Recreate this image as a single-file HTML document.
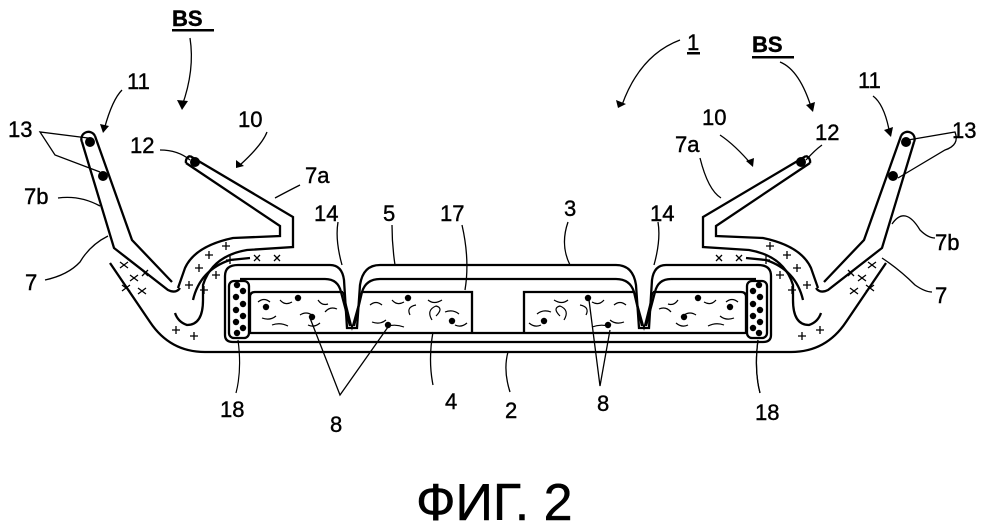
<!DOCTYPE html>
<html><head><meta charset="utf-8"><style>
html,body{margin:0;padding:0;background:#fff;}
svg{display:block;}
text{font-family:"Liberation Sans",sans-serif;font-size:22px;fill:#000;stroke:#000;stroke-width:0.4;}
</style></head><body>
<svg width="998" height="530" viewBox="0 0 998 530" xmlns="http://www.w3.org/2000/svg">
<defs>
<g id="half" fill="none" stroke="#000" stroke-width="2.3">
  <path d="M82 142 L114 248 L168 290 Q176 294 180 288"/>
  <path d="M95 136 L132 240 L172 282"/>
  <path d="M82 142 A7 7 0 0 1 95 136"/>
  <path d="M190 156 L293 217 L293 247 L247 250 Q212 256 203 285 L203 300 Q203 325 187 325 Q178 322 175 313"/>
  <path d="M186 163 L280 226 L280 236 L233 238 Q195 246 185 268 L178 288"/>
  <path d="M186 163 A6 6 0 0 1 190 156"/>
  <path d="M193 300 Q200 270 230 260 L250 258"/>
  <path d="M110 263 L150 322 Q170 352 205 352 L498 352"/>
  <path d="M233 342 L498 342"/>
  <path d="M225 335 L225 276 Q225 265 238 265 L330 265 Q342 265 344 280 L347 328 L357 328 L360 285 Q363 265 380 265 L498 265"/>
  <path d="M233 342 Q225 342 225 335"/>
  <path d="M240 279 L325 279 Q338 279 341 292 L350 326"/>
  <path d="M354 326 L362 292 Q366 279 380 279 L498 279"/>
  <rect x="229" y="281" width="20" height="57" rx="5"/>
  <path d="M343 292 L255 292 Q250 292 250 297 L250 333 L498 333"/>
  <path d="M362 292 L472 292 L472 333"/>
  <path d="M343 292 L352 328 L362 292" stroke-width="1.5"/>
  <path d="M238 340 Q242 370 236 393" stroke-width="1.2"/>
  <g stroke-width="1.2">
    <path d="M258 302 q6 -5 12 0 M262 318 q8 3 14 -2 M280 300 q5 6 12 2 M300 315 q6 -4 12 0 M318 300 q4 6 10 4 M272 325 q8 -3 16 1 M308 325 q6 3 12 -2 M325 312 q5 -6 12 -3"/>
    <path d="M370 305 q6 -5 12 0 M372 322 q8 3 14 -2 M392 300 q5 6 12 2 M410 315 q-4 -8 6 -10 M428 300 q6 5 14 0 M445 312 q8 -3 14 2 M388 326 q8 -2 16 1 M455 325 q6 3 12 -2 M432 320 q-6 -10 4 -14 q8 2 0 10"/>
  </g>
  <g fill="#000" stroke="none">
    <circle cx="90" cy="142" r="5"/><circle cx="103" cy="176" r="5"/><circle cx="195" cy="162" r="5"/>
    <circle cx="237" cy="285" r="3.2"/><circle cx="243" cy="291" r="3.2"/><circle cx="236" cy="297" r="3.2"/><circle cx="243" cy="304" r="3.2"/><circle cx="236" cy="310" r="3.2"/><circle cx="243" cy="316" r="3.2"/><circle cx="236" cy="322" r="3.2"/><circle cx="243" cy="328" r="3.2"/><circle cx="237" cy="333" r="3.2"/>
    <circle cx="266" cy="307" r="3.2"/><circle cx="298" cy="298" r="3.2"/><circle cx="312" cy="317" r="3.2"/>
    <circle cx="408" cy="298" r="3.2"/><circle cx="388" cy="325" r="3.2"/><circle cx="452" cy="321" r="3.2"/>
  </g>
  <g stroke-width="1.3">
    <path d="M120 262 l8 6 m0 -6 l-8 6 M130 275 l8 6 m0 -6 l-8 6 M122 285 l8 6 m0 -6 l-8 6 M138 288 l8 6 m0 -6 l-8 6 M142 270 l6 6 m0 -6 l-6 6"/>
    <path d="M185 285 h8 m-4 -4 v8 M195 268 h8 m-4 -4 v8 M205 255 h8 m-4 -4 v8 M222 246 h8 m-4 -4 v8 M200 290 h8 m-4 -4 v8 M212 275 h8 m-4 -4 v8 M226 260 h8 m-4 -4 v8 M172 330 h8 m-4 -4 v8 M190 336 h8 m-4 -4 v8"/>
    <path d="M254 255 l6 6 m0 -6 l-6 6 M274 255 l6 6 m0 -6 l-6 6"/>
  </g>
</g>
</defs>
<use href="#half"/>
<use href="#half" transform="translate(996,0) scale(-1,1)"/>
<g fill="none" stroke="#000" stroke-width="1.3">
  <path d="M88 138 L40 132 L55 155 L100 172"/>
  <path d="M190 160 Q178 150 160 150"/>
  <path d="M275 198 Q290 190 300 185"/>
  <path d="M100 206 Q80 195 58 198"/>
  <path d="M108 236 Q90 245 80 262 Q68 275 45 280"/>
  <path d="M342 265 Q335 240 338 222"/>
  <path d="M908 140 L955 132 Q960 145 945 150 L898 178"/>
  <path d="M806 160 Q815 150 822 145"/>
  <path d="M721 198 Q708 190 700 158"/>
  <path d="M892 224 Q905 205 920 230 Q928 238 935 238"/>
  <path d="M882 258 Q900 270 915 285 Q925 292 932 292"/>
  <path d="M654 265 Q661 240 658 222"/>
  <path d="M758 340 Q754 370 760 393"/>
  <path d="M310 318 L340 395 L388 327"/>
  <path d="M433 332 Q428 360 433 385"/>
  <path d="M508 352 Q503 370 510 392"/>
  <path d="M589 300 L600 386 L610 330"/>
  <path d="M395 265 Q392 245 392 225"/>
  <path d="M465 290 Q470 260 462 225"/>
  <path d="M570 265 Q560 245 568 222"/>
  <path d="M190 38 Q195 70 182 106"/>
  <path d="M122 90 Q112 100 104 130"/>
  <path d="M267 132 Q262 145 240 165"/>
  <path d="M680 40 Q640 55 622 105"/>
  <path d="M780 62 Q800 70 812 110"/>
  <path d="M873 96 Q885 105 890 135"/>
  <path d="M720 135 Q735 145 752 165"/>
</g>
<g fill="#000">
  <path d="M177 100 L182 110 L188 101 Z"/>
  <path d="M100 124 L103 133 L109 126 Z"/>
  <path d="M236 160 L236 168 L244 166 Z"/>
  <path d="M616 100 L618 108 L626 104 Z"/>
  <path d="M806 105 L813 112 L815 102 Z"/>
  <path d="M884 130 L891 137 L893 127 Z"/>
  <path d="M746 161 L753 167 L754 158 Z"/>
</g>
<text x="172" y="26" style="font-weight:bold">BS</text><rect x="172" y="29" width="42" height="2.5"/>
<text x="752" y="52" style="font-weight:bold">BS</text><rect x="752" y="56" width="42" height="2.5"/>
<text x="687" y="50">1</text><rect x="687" y="52" width="13" height="2.5"/>
<text x="127" y="89">11</text>
<text x="858" y="88">11</text>
<text x="8" y="137">13</text>
<text x="952" y="138">13</text>
<text x="130" y="153">12</text>
<text x="815" y="140">12</text>
<text x="238" y="127">10</text>
<text x="702" y="125">10</text>
<text x="305" y="183">7a</text>
<text x="675" y="152">7a</text>
<text x="24" y="204">7b</text>
<text x="935" y="250">7b</text>
<text x="25" y="290">7</text>
<text x="935" y="303">7</text>
<text x="314" y="221">14</text>
<text x="650" y="221">14</text>
<text x="383" y="221">5</text>
<text x="440" y="221">17</text>
<text x="564" y="216">3</text>
<text x="220" y="417">18</text>
<text x="755" y="420">18</text>
<text x="330" y="432">8</text>
<text x="445" y="409">4</text>
<text x="505" y="418">2</text>
<text x="597" y="411">8</text>
<text x="416" y="520" style="font-size:52px;stroke-width:0.5">ФИГ. 2</text>
</svg>
</body></html>
